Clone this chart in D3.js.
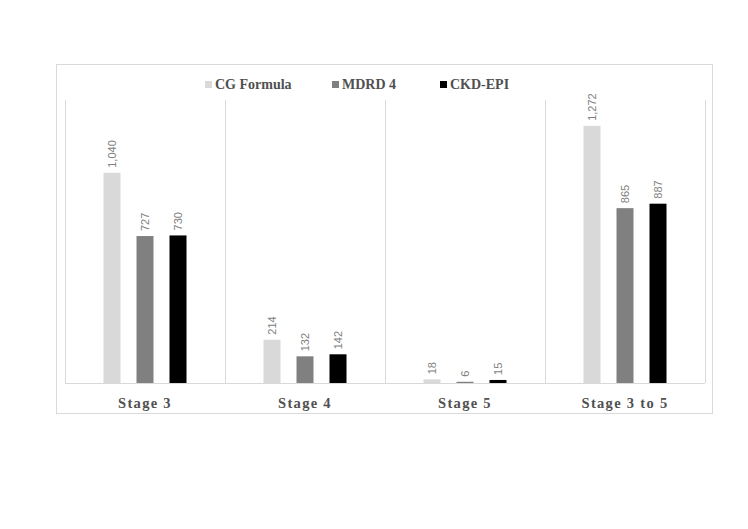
<!DOCTYPE html>
<html>
<head>
<meta charset="utf-8">
<script src="https://cdn.jsdelivr.net/npm/d3@7"></script>
<style>
  body { margin: 0; background: #fff; }
</style>
</head>
<body>
<div id="chart"></div>
<script>
// data
const stages = ["Stage 3", "Stage 4", "Stage 5", "Stage 3 to 5"];
const seriesNames = ["CG Formula", "MDRD 4", "CKD-EPI"];
const cgValues = [1040, 214, 18, 1272];
const mdrdValues = [727, 132, 6, 865];
const ckdValues = [730, 142, 15, 887];
const seriesColors = ["#d9d9d9", "#808080", "#000000"];

const width = 748, height = 529;
const plot = { left: 65, right: 705, top: 100, bottom: 383 };

const svg = d3.select("#chart").append("svg")
    .attr("width", width)
    .attr("height", height);

// outer frame
svg.append("rect")
    .attr("x", 56.5).attr("y", 64.5)
    .attr("width", 656).attr("height", 349)
    .attr("fill", "none")
    .attr("stroke", "#d9d9d9");

const x = d3.scaleBand().domain(stages).range([plot.left, plot.right]).padding(0);
const xs = d3.scaleBand().domain(seriesNames).range([-41.5, 41.5]).paddingInner(16 / 33);
const y = d3.scaleLinear().domain([0, 1400]).range([plot.bottom, plot.top]);

// vertical separators between categories
const seps = stages.map(s => x(s)).concat([plot.right]);
svg.append("g").selectAll("line")
    .data(seps)
    .enter().append("line")
    .attr("x1", d => d + 0.5).attr("x2", d => d + 0.5)
    .attr("y1", plot.top).attr("y2", plot.bottom)
    .attr("stroke", "#d9d9d9");

const rows = [];
stages.forEach((s, i) => {
    [cgValues, mdrdValues, ckdValues].forEach((vals, j) => {
        rows.push({ stage: s, series: seriesNames[j], value: vals[i], color: seriesColors[j] });
    });
});

const cx = d => x(d.stage) + x.bandwidth() / 2 + xs(d.series);

svg.append("g").selectAll("rect")
    .data(rows)
    .enter().append("rect")
    .attr("x", cx)
    .attr("width", xs.bandwidth())
    .attr("y", d => y(d.value))
    .attr("height", d => y(0) - y(d.value))
    .attr("fill", d => d.color);

// baseline
svg.append("line")
    .attr("x1", plot.left).attr("x2", plot.right)
    .attr("y1", plot.bottom + 0.5).attr("y2", plot.bottom + 0.5)
    .attr("stroke", "#d9d9d9");

// value labels, rotated
svg.append("g").selectAll("text")
    .data(rows)
    .enter().append("text")
    .attr("transform", d => `translate(${cx(d) + xs.bandwidth() / 2 + 4},${y(d.value) - 5}) rotate(-90)`)
    .attr("font-family", "Liberation Sans, Arial, sans-serif")
    .attr("font-size", 11)
    .attr("fill", "#808080")
    .text(d => d3.format(",")(d.value));

// category labels
svg.append("g").selectAll("text")
    .data(stages)
    .enter().append("text")
    .attr("x", d => x(d) + x.bandwidth() / 2)
    .attr("y", 408)
    .attr("text-anchor", "middle")
    .attr("font-family", "Liberation Serif, Times New Roman, serif")
    .attr("font-weight", "bold")
    .attr("font-size", 14.5)
    .attr("letter-spacing", 1.3)
    .attr("fill", "#505050")
    .text(d => d);

// legend
const legendX = [205, 332, 440];
const legend = svg.append("g").selectAll("g")
    .data(seriesNames)
    .enter().append("g")
    .attr("transform", (d, i) => `translate(${legendX[i]},85)`);

legend.append("rect")
    .attr("x", 0).attr("y", -4)
    .attr("width", 7).attr("height", 7)
    .attr("fill", (d, i) => seriesColors[i]);

legend.append("text")
    .attr("x", 10).attr("y", 4)
    .attr("font-family", "Liberation Serif, Times New Roman, serif")
    .attr("font-weight", "bold")
    .attr("font-size", 14)
    .attr("fill", "#505050")
    .text(d => d);
</script>
</body>
</html>
